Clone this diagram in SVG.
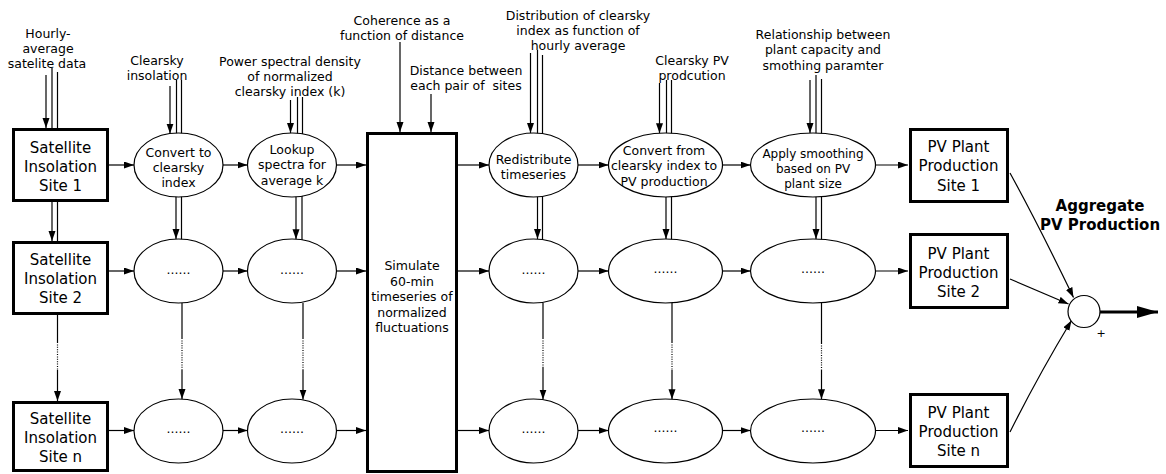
<svg xmlns="http://www.w3.org/2000/svg" width="1166" height="474" viewBox="0 0 1166 474">
  <style>
    .box { fill: #fff; stroke: #000; stroke-width: 3; }
    .ell { fill: #fff; stroke: #000; stroke-width: 1.2; }
    .sum { fill: #fff; stroke: #000; stroke-width: 1.2; }
    .ln { fill: none; stroke: #000; stroke-width: 1.2; }
    .arr { marker-end: url(#ah); }
    .dot { stroke-dasharray: 1 1.4; }
    text { font-family: "DejaVu Sans", "Liberation Sans", sans-serif; fill: #000; text-anchor: middle; }
    .lbl { font-size: 12.5px; }
    .el { font-size: 12.5px; }
    .bx { font-size: 15px; }
    .agg { font-size: 15px; font-weight: bold; }
  </style>
  <defs>
    <marker id="ah" markerUnits="userSpaceOnUse" markerWidth="11" markerHeight="8" refX="10" refY="3.5" orient="auto">
      <path d="M0,0 L10,3.5 L0,7 z" fill="#000"/>
    </marker>
    <marker id="ahBig" markerUnits="userSpaceOnUse" markerWidth="22" markerHeight="14" refX="21" refY="6" orient="auto">
      <path d="M0,0 L21,6 L0,12 z" fill="#000"/>
    </marker>
  </defs>

  <!-- input labels -->
  <g id="labels">
    <text class="lbl" x="48" y="37.5">Hourly-</text>
    <text class="lbl" x="48" y="52.5">average</text>
    <text class="lbl" x="47" y="67.5">satelite data</text>

    <text class="lbl" x="157" y="64.5">Clearsky</text>
    <text class="lbl" x="157" y="79.5">insolation</text>

    <text class="lbl" x="290" y="66">Power spectral density</text>
    <text class="lbl" x="290" y="81">of normalized</text>
    <text class="lbl" x="290" y="96">clearsky index (k)</text>

    <text class="lbl" x="402" y="24.5">Coherence as a</text>
    <text class="lbl" x="402" y="39.5">function of distance</text>

    <text class="lbl" x="466" y="74.5">Distance between</text>
    <text class="lbl" x="466" y="89.5" xml:space="preserve">each pair of  sites</text>

    <text class="lbl" x="578" y="19.5">Distribution of clearsky</text>
    <text class="lbl" x="578" y="34.5">index as function of</text>
    <text class="lbl" x="578" y="49.5">hourly average</text>

    <text class="lbl" x="692" y="64.5">Clearsky PV</text>
    <text class="lbl" x="692" y="79.5">prodcution</text>

    <text class="lbl" x="823" y="38.5">Relationship between</text>
    <text class="lbl" x="823" y="54">plant capacity and</text>
    <text class="lbl" x="823" y="69.5">smothing paramter</text>
  </g>

  <!-- connectors -->
  <g id="connectors">
    <!-- satellite column -->
    <line class="ln arr" x1="46" y1="75" x2="46" y2="128"/>
    <line class="ln" x1="52" y1="68" x2="52" y2="130"/>
    <line class="ln" x1="57.5" y1="72" x2="57.5" y2="130"/>
    <line class="ln arr" x1="52" y1="202" x2="52" y2="241"/>
    <line class="ln" x1="57.5" y1="202" x2="57.5" y2="241"/>
    <line class="ln" x1="57.5" y1="315" x2="57.5" y2="342"/>
    <line class="ln dot" x1="57.5" y1="342" x2="57.5" y2="370"/>
    <line class="ln arr" x1="57.5" y1="370" x2="57.5" y2="401"/>

    <!-- convert to clearsky column -->
    <line class="ln arr" x1="170" y1="86" x2="170" y2="133.6"/>
    <line class="ln" x1="176.5" y1="80" x2="176.5" y2="165"/>
    <line class="ln" x1="181.5" y1="80" x2="181.5" y2="165"/>
    <line class="ln arr" x1="176" y1="196" x2="176" y2="239"/>
    <line class="ln" x1="181.5" y1="165" x2="181.5" y2="240"/>
    <line class="ln" x1="182" y1="303" x2="182" y2="338"/>
    <line class="ln dot" x1="182" y1="338" x2="182" y2="370"/>
    <line class="ln arr" x1="182" y1="370" x2="182" y2="399"/>

    <!-- lookup spectra column -->
    <line class="ln arr" x1="290.5" y1="100" x2="290.5" y2="133"/>
    <line class="ln" x1="297.5" y1="97" x2="297.5" y2="165"/>
    <line class="ln" x1="302.5" y1="97" x2="302.5" y2="165"/>
    <line class="ln arr" x1="296" y1="196.5" x2="296" y2="239.2"/>
    <line class="ln" x1="302" y1="165" x2="302" y2="240"/>
    <line class="ln" x1="303" y1="303" x2="303" y2="338"/>
    <line class="ln dot" x1="303" y1="338" x2="303" y2="370"/>
    <line class="ln arr" x1="303" y1="370" x2="303" y2="399.5"/>

    <!-- simulate block inputs -->
    <line class="ln arr" x1="400" y1="42" x2="400" y2="132"/>
    <line class="ln arr" x1="431" y1="94" x2="431" y2="132"/>

    <!-- redistribute column -->
    <line class="ln arr" x1="530.5" y1="53" x2="530.5" y2="133"/>
    <line class="ln" x1="537.5" y1="50" x2="537.5" y2="165"/>
    <line class="ln" x1="542.5" y1="55" x2="542.5" y2="165"/>
    <line class="ln arr" x1="537.5" y1="196.5" x2="537.5" y2="239"/>
    <line class="ln" x1="542.5" y1="165" x2="542.5" y2="240"/>
    <line class="ln" x1="543" y1="303" x2="543" y2="338"/>
    <line class="ln dot" x1="543" y1="338" x2="543" y2="367"/>
    <line class="ln arr" x1="543" y1="367" x2="543" y2="399.5"/>

    <!-- convert to PV column -->
    <line class="ln arr" x1="659.5" y1="83" x2="659.5" y2="133.3"/>
    <line class="ln" x1="666.5" y1="80" x2="666.5" y2="165"/>
    <line class="ln" x1="671.5" y1="80" x2="671.5" y2="165"/>
    <line class="ln arr" x1="666" y1="196.5" x2="666" y2="239"/>
    <line class="ln" x1="671.5" y1="165" x2="671.5" y2="240"/>
    <line class="ln" x1="672" y1="303" x2="672" y2="342"/>
    <line class="ln dot" x1="672" y1="342" x2="672" y2="370"/>
    <line class="ln arr" x1="672" y1="370" x2="672" y2="399.2"/>

    <!-- smoothing column -->
    <line class="ln arr" x1="810" y1="80" x2="810" y2="133"/>
    <line class="ln" x1="816" y1="75" x2="816" y2="165"/>
    <line class="ln" x1="821.5" y1="79" x2="821.5" y2="165"/>
    <line class="ln arr" x1="816" y1="196.5" x2="816" y2="239"/>
    <line class="ln" x1="821.5" y1="165" x2="821.5" y2="240"/>
    <line class="ln" x1="821.5" y1="303" x2="821.5" y2="343"/>
    <line class="ln dot" x1="821.5" y1="343" x2="821.5" y2="370"/>
    <line class="ln arr" x1="821.5" y1="370" x2="821.5" y2="399.3"/>

    <!-- row 1 -->
    <line class="ln arr" x1="109" y1="165" x2="134" y2="165"/>
    <line class="ln arr" x1="223" y1="165" x2="247.5" y2="165"/>
    <line class="ln arr" x1="336.5" y1="165" x2="366" y2="165"/>
    <line class="ln arr" x1="457.5" y1="165" x2="489" y2="165"/>
    <line class="ln arr" x1="578" y1="165" x2="608.5" y2="165"/>
    <line class="ln arr" x1="722.5" y1="165" x2="750.5" y2="165"/>
    <line class="ln arr" x1="875.5" y1="165" x2="908" y2="165"/>

    <!-- row 2 -->
    <line class="ln arr" x1="109" y1="271" x2="134" y2="271"/>
    <line class="ln arr" x1="223" y1="271" x2="247.5" y2="271"/>
    <line class="ln arr" x1="336.5" y1="271" x2="366" y2="271"/>
    <line class="ln arr" x1="457.5" y1="271" x2="489" y2="271"/>
    <line class="ln arr" x1="578" y1="271" x2="608.5" y2="271"/>
    <line class="ln arr" x1="722.5" y1="271" x2="750.5" y2="271"/>
    <line class="ln arr" x1="875.5" y1="271" x2="908" y2="271"/>

    <!-- row n -->
    <line class="ln arr" x1="109" y1="430.5" x2="134" y2="430.5"/>
    <line class="ln arr" x1="223" y1="430.5" x2="247.5" y2="430.5"/>
    <line class="ln arr" x1="336.5" y1="430.5" x2="366" y2="430.5"/>
    <line class="ln arr" x1="457.5" y1="430.5" x2="489" y2="430.5"/>
    <line class="ln arr" x1="578" y1="430.5" x2="608.5" y2="430.5"/>
    <line class="ln arr" x1="722.5" y1="430.5" x2="750.5" y2="430.5"/>
    <line class="ln arr" x1="875.5" y1="430.5" x2="908" y2="430.5"/>

    <!-- plant outputs into the sum -->
    <path class="ln arr" d="M1010,173 Q1040,228 1073.5,297.5"/>
    <line class="ln arr" x1="1010" y1="279" x2="1068.5" y2="304"/>
    <path class="ln arr" d="M1010,432 Q1038,376 1071.5,320.5"/>

    <!-- aggregate output -->
    <line x1="1100" y1="312" x2="1158" y2="312" stroke="#000" stroke-width="3" marker-end="url(#ahBig)"/>
  </g>

  <!-- satellite input boxes -->
  <g id="sat1">
    <rect class="box" x="13.5" y="129.5" width="94" height="71"/>
    <text class="bx" x="60.5" y="152.5">Satellite</text>
    <text class="bx" x="60.5" y="171.5">Insolation</text>
    <text class="bx" x="60.5" y="190.5">Site 1</text>
  </g>
  <g id="sat2">
    <rect class="box" x="13.5" y="242.5" width="94" height="71"/>
    <text class="bx" x="60.5" y="264.5">Satellite</text>
    <text class="bx" x="60.5" y="283.5">Insolation</text>
    <text class="bx" x="60.5" y="302.5">Site 2</text>
  </g>
  <g id="satn">
    <rect class="box" x="13.5" y="402.5" width="94" height="68"/>
    <text class="bx" x="60.5" y="423.5">Satellite</text>
    <text class="bx" x="60.5" y="442.5">Insolation</text>
    <text class="bx" x="60.5" y="461.5">Site n</text>
  </g>

  <!-- clearsky conversion -->
  <g id="conv1">
    <ellipse class="ell" cx="178.5" cy="165" rx="44.5" ry="32"/>
    <text class="el" x="178.5" y="156.5">Convert to</text>
    <text class="el" x="178.5" y="171.5">clearsky</text>
    <text class="el" x="178.5" y="187">index</text>
  </g>
  <g id="conv2">
    <ellipse class="ell" cx="178.5" cy="271" rx="44.5" ry="32"/>
    <text class="el" x="178.5" y="273.5">......</text>
  </g>
  <g id="convn">
    <ellipse class="ell" cx="178.5" cy="431" rx="44.5" ry="32"/>
    <text class="el" x="178.5" y="433">......</text>
  </g>

  <!-- spectra lookup -->
  <g id="look1">
    <ellipse class="ell" cx="292" cy="165" rx="44.5" ry="32"/>
    <text class="el" x="292" y="153.5">Lookup</text>
    <text class="el" x="292" y="169">spectra for</text>
    <text class="el" x="292" y="184.5">average k</text>
  </g>
  <g id="look2">
    <ellipse class="ell" cx="292" cy="271" rx="44.5" ry="32"/>
    <text class="el" x="292" y="273.5">......</text>
  </g>
  <g id="lookn">
    <ellipse class="ell" cx="292" cy="431" rx="44.5" ry="32"/>
    <text class="el" x="292" y="433">......</text>
  </g>

  <!-- joint simulation -->
  <g id="simulate">
    <rect class="box" x="367.5" y="133.5" width="89" height="338"/>
    <text class="el" x="412" y="270">Simulate</text>
    <text class="el" x="412" y="285.5">60-min</text>
    <text class="el" x="412" y="301">timeseries of</text>
    <text class="el" x="412" y="316.5">normalized</text>
    <text class="el" x="412" y="332">fluctuations</text>
  </g>

  <!-- redistribution -->
  <g id="redist1">
    <ellipse class="ell" cx="533.5" cy="165" rx="44.5" ry="32"/>
    <text class="el" x="533.5" y="163.5">Redistribute</text>
    <text class="el" x="533.5" y="178.5">timeseries</text>
  </g>
  <g id="redist2">
    <ellipse class="ell" cx="533.5" cy="271" rx="44.5" ry="32"/>
    <text class="el" x="533.5" y="273.5">......</text>
  </g>
  <g id="redistn">
    <ellipse class="ell" cx="533.5" cy="431" rx="44.5" ry="32"/>
    <text class="el" x="533.5" y="433">......</text>
  </g>

  <!-- PV conversion -->
  <g id="pvconv1">
    <ellipse class="ell" cx="665.5" cy="165" rx="57" ry="32"/>
    <text class="el" x="664" y="154.5">Convert from</text>
    <text class="el" x="664" y="170">clearsky index to</text>
    <text class="el" x="664" y="185.5">PV production</text>
  </g>
  <g id="pvconv2">
    <ellipse class="ell" cx="665.5" cy="271" rx="57" ry="32"/>
    <text class="el" x="665.5" y="272.5">......</text>
  </g>
  <g id="pvconvn">
    <ellipse class="ell" cx="665.5" cy="431" rx="57" ry="32"/>
    <text class="el" x="665.5" y="432">......</text>
  </g>

  <!-- smoothing -->
  <g id="smooth1">
    <ellipse class="ell" cx="813" cy="165" rx="62.5" ry="32"/>
    <text class="el" x="813" y="158" style="font-size:12px">Apply smoothing</text>
    <text class="el" x="813" y="173" style="font-size:12px">based on PV</text>
    <text class="el" x="813" y="188" style="font-size:12px">plant size</text>
  </g>
  <g id="smooth2">
    <ellipse class="ell" cx="813" cy="271" rx="62.5" ry="32"/>
    <text class="el" x="813" y="272.5">......</text>
  </g>
  <g id="smoothn">
    <ellipse class="ell" cx="813" cy="431" rx="62.5" ry="32"/>
    <text class="el" x="813" y="432">......</text>
  </g>

  <!-- plant production boxes -->
  <g id="pv1">
    <rect class="box" x="910.5" y="129.5" width="97" height="72"/>
    <text class="bx" x="958.5" y="152">PV Plant</text>
    <text class="bx" x="958.5" y="171">Production</text>
    <text class="bx" x="958.5" y="190.5">Site 1</text>
  </g>
  <g id="pv2">
    <rect class="box" x="910.5" y="234.5" width="97" height="73"/>
    <text class="bx" x="958.5" y="258.5">PV Plant</text>
    <text class="bx" x="958.5" y="277.5">Production</text>
    <text class="bx" x="958.5" y="296.5">Site 2</text>
  </g>
  <g id="pvn">
    <rect class="box" x="910.5" y="394.5" width="97" height="72"/>
    <text class="bx" x="958.5" y="417.5">PV Plant</text>
    <text class="bx" x="958.5" y="436.5">Production</text>
    <text class="bx" x="958.5" y="455.5">Site n</text>
  </g>

  <!-- summing junction -->
  <g id="sum">
    <circle class="sum" cx="1084" cy="311.5" r="16"/>
    <text x="1101" y="337" style="font-size:11px">+</text>
    <text class="agg" x="1100" y="211">Aggregate</text>
    <text class="agg" x="1100" y="230">PV Production</text>
  </g>
</svg>
